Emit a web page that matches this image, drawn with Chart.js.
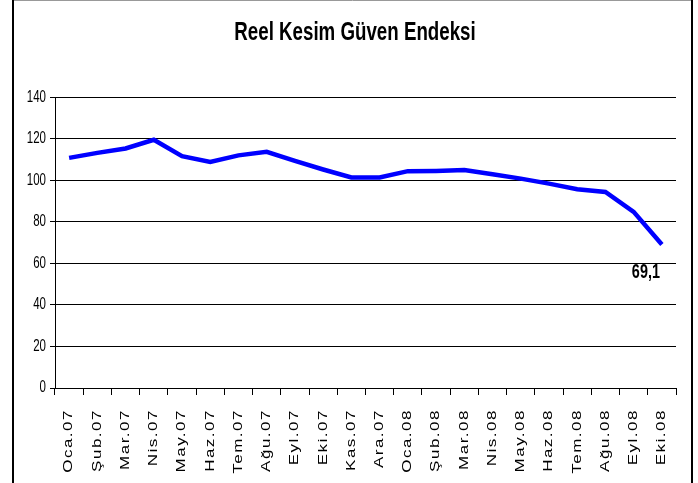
<!DOCTYPE html>
<html>
<head>
<meta charset="utf-8">
<script src="https://cdn.jsdelivr.net/npm/chart.js@4"></script>
<style>
  body { margin: 0; background: #fff; }
</style>
</head>
<body>
<canvas id="myChart" width="698" height="483"></canvas>
<script>
// Months on the x axis
const months = ["Oca.07", "Şub.07", "Mar.07", "Nis.07", "May.07", "Haz.07", "Tem.07", "Ağu.07", "Eyl.07", "Eki.07", "Kas.07", "Ara.07",
                "Oca.08", "Şub.08", "Mar.08", "Nis.08", "May.08", "Haz.08", "Tem.08", "Ağu.08", "Eyl.08", "Eki.08"]

// Index values
const confidence = [110.8, 113.2, 115.3, 119.5, 111.6, 108.8, 112.0, 113.7, 109.3, 105.2, 101.4, 101.4,
                    104.4, 104.5, 104.9, 102.9, 100.8, 98.4, 95.7, 94.4, 84.8, 69.1]

const yTicks = [0, 20, 40, 60, 80, 100, 120, 140]

const FONT = "'Liberation Sans', Arial, sans-serif"
const SQUEEZE = 0.72   // the original's text is narrow

const ctx = document.getElementById('myChart').getContext('2d')

// squeeze every text horizontally round its anchor (screen space)
const plainFill = ctx.fillText.bind(ctx)
ctx.fillText = function (text, x, y, maxW) {
    const m = this.getTransform()
    const p = m.transformPoint({ x: x, y: y })
    const s = new DOMMatrix().translate(p.x, 0).scale(SQUEEZE, 1).translate(-p.x, 0).multiply(m)
    this.save()
    this.setTransform(s)
    if (maxW === undefined) plainFill(text, x, y)
    else plainFill(text, x, y, maxW)
    this.restore()
}

// frame round the whole chart
const frame = {
    id: 'frame',
    beforeDraw(chart) {
        const c = chart.ctx
        c.save()
        c.fillStyle = '#fff'
        c.fillRect(0, 0, chart.width, chart.height)
        c.strokeStyle = '#999'
        c.lineWidth = 1
        c.beginPath(); c.moveTo(13, 0.5); c.lineTo(692, 0.5); c.stroke()
        c.strokeStyle = '#000'
        c.lineWidth = 2
        c.beginPath(); c.moveTo(13, 0); c.lineTo(13, chart.height); c.stroke()
        c.beginPath(); c.moveTo(692, 0); c.lineTo(692, chart.height); c.stroke()
        c.restore()
    }
}

// spaced out month labels, and no clipping of the y labels
const labelTweaks = {
    id: 'labelTweaks',
    afterLayout(chart) {
        chart.scales.y._computeLabelArea = () => undefined
        const s = chart.scales.x
        if (s._spaced) return
        const orig = s.drawLabels.bind(s)
        s.drawLabels = function (area) {
            chart.ctx.save()
            chart.ctx.letterSpacing = '1.5px'
            orig(area)
            chart.ctx.restore()
        }
        s._spaced = true
    }
}

// value label on the last point
const lastValue = {
    id: 'lastValue',
    afterDatasetsDraw(chart) {
        const meta = chart.getDatasetMeta(0)
        const pt = meta.data[meta.data.length - 1]
        const v = confidence[confidence.length - 1]
        const c = chart.ctx
        c.save()
        c.font = "bold 20px " + FONT
        c.fillStyle = '#000'
        c.textAlign = 'center'
        c.textBaseline = 'middle'
        c.fillText(String(v).replace('.', ','), pt.x - 16, pt.y + 28)
        c.restore()
    }
}

const chart = new Chart(ctx, {
    type: 'line',
    data: {
        labels: months,
        datasets: [{
            data: confidence,
            borderColor: '#0000ff',
            borderWidth: 4.5,
            pointRadius: 0,
            tension: 0,
            fill: false
        }]
    },
    options: {
        responsive: false,
        animation: false,
        layout: { padding: { left: 34, right: 22, top: 0, bottom: 0 } },
        plugins: {
            legend: { display: false },
            tooltip: { enabled: false },
            title: {
                display: true,
                text: 'Reel Kesim Güven Endeksi',
                color: '#000',
                font: { family: FONT, size: 26, weight: 'bold' },
                padding: { top: 17, bottom: 49 }
            }
        },
        scales: {
            x: {
                offset: true,
                grid: { offset: true, drawOnChartArea: false, color: '#000', tickLength: 7 },
                border: { color: '#000', width: 1 },
                ticks: {
                    autoSkip: false,
                    minRotation: 90,
                    maxRotation: 90,
                    color: '#000',
                    padding: 14,
                    font: { family: FONT, size: 17 }
                },
                afterFit(scale) { scale.height = 95 }
            },
            y: {
                min: 0,
                max: 140,
                afterBuildTicks(scale) { scale.ticks = yTicks.map(v => ({ value: v })) },
                grid: { color: '#000', lineWidth: 1, tickLength: 5 },
                border: { color: '#000', width: 1 },
                ticks: {
                    color: '#000',
                    padding: 4,
                    font: { family: FONT, size: 16 }
                },
                afterFit(scale) { scale.width = 21 }
            }
        }
    },
    plugins: [frame, labelTweaks, lastValue]
})
</script>
</body>
</html>
